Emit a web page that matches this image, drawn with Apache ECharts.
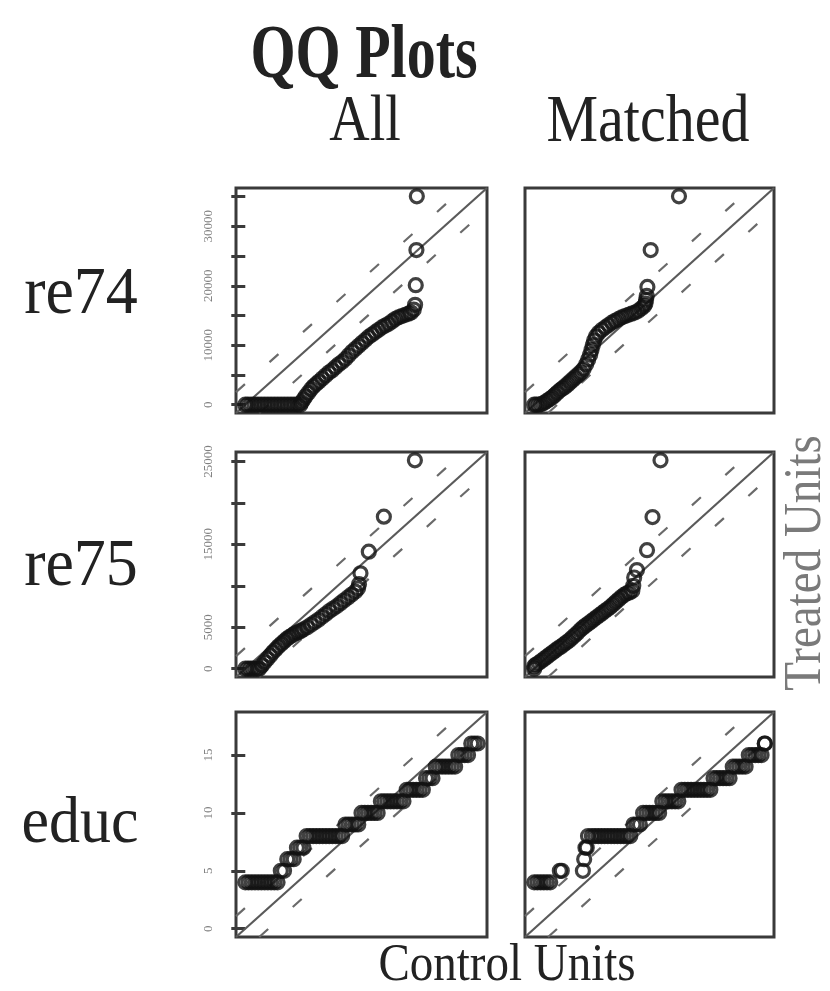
<!DOCTYPE html>
<html><head><meta charset="utf-8">
<script src="https://cdn.jsdelivr.net/npm/echarts@6/dist/echarts.min.js"></script>
<style>html,body{margin:0;padding:0;background:#fff}#c{width:830px;height:991px}</style>
</head><body><div id="c"></div>
<script>
// ---- data: [control quantile, treated quantile] ----
const rowNames = ['re74', 're75', 'educ'];
const colNames = ['All', 'Matched'];

const re74All = [
  [0,0],[400,0],[900,0],[1400,0],[1900,0],[2400,0],[2900,0],[3400,0],[3900,0],[4400,0],[4900,0],
  [5400,0],[5900,0],[6400,0],[6900,0],[7400,0],[7900,0],[8300,0],
  [8500,400],[8800,900],[9100,1400],[9500,2000],[9900,2600],[10300,3100],[10700,3500],[11100,3900],
  [11600,4400],[12100,4900],[12600,5400],[13100,5800],[13600,6300],[14100,6800],[14600,7200],
  [15100,7700],[15600,8300],[16100,8900],[16600,9400],[17100,9900],[17600,10400],[18100,10900],
  [18600,11400],[19100,11800],[19600,12200],[20100,12600],[20600,13000],[21100,13300],[21600,13600],
  [22100,14000],[22600,14400],[23100,14700],[23600,14900],[24100,15100],[24600,15300],[25000,15500],
  [25400,16000],[25600,16800],[25700,20100],[25800,26000],[25862,35040]
];
const re74Matched = [
  [0,0],[300,0],[700,0],[1100,100],[1500,300],[1900,600],[2300,900],[2700,1200],[3100,1600],[3500,2000],
  [3900,2400],[4300,2700],[4700,3000],[5100,3400],[5500,3800],[5900,4200],[6300,4600],[6700,5000],
  [7100,5400],[7500,6000],[7900,6800],[8200,7600],[8500,8400],[8700,9200],[8900,10000],[9100,10800],
  [9400,11500],[9800,12100],[10300,12600],[10800,13000],[11300,13400],[11800,13800],[12300,14100],
  [12800,14400],[13300,14700],[13800,14900],[14300,15100],[14800,15300],[15300,15500],[15800,15800],
  [16300,16200],[16700,16600],[16900,17000],[17000,17600],[17100,18300],[17200,19800],[17700,26000],[22000,35040]
];
const re75All = [
  [0,0],[300,0],[600,0],[900,0],[1200,0],[1500,0],
  [1800,400],[2100,800],[2400,1200],[2700,1600],[3000,2000],[3300,2350],[3600,2700],[3900,3000],
  [4200,3300],[4500,3600],[4800,3850],[5100,4050],[5400,4250],[5700,4400],[6000,4550],[6300,4750],
  [6700,5000],[7100,5300],[7500,5600],[7900,5900],[8300,6250],[8700,6600],[9100,6950],[9500,7250],
  [9900,7550],[10300,7900],[10700,8250],[11100,8600],[11500,8950],[11900,9300],[12200,9700],
  [12300,10200],[12460,11510],[13360,14120],[14990,18345],[18347,25142]
];
const re75Matched = [
  [0,0],[0,300],[200,500],[500,700],[800,950],[1100,1200],[1400,1450],[1700,1700],[2000,1950],
  [2300,2200],[2600,2450],[2900,2650],[3200,2900],[3500,3150],[3800,3400],[4100,3700],[4400,4000],
  [4700,4300],[5000,4650],[5300,4950],[5600,5200],[5900,5450],[6200,5700],[6500,5950],[6800,6200],
  [7100,6450],[7400,6700],[7700,6950],[8000,7200],[8300,7450],[8600,7750],[8900,8050],[9200,8350],
  [9500,8650],[9800,8900],[10100,9100],[10400,9200],[10700,9400],[10800,10000],[10900,11000],
  [11200,11900],[12300,14300],[12900,18300],[13770,25142]
];
const educAll = [
  [0,4],[0.25,4],[0.5,4],[0.75,4],[1,4],[1.25,4],[1.5,4],[1.75,4],[2,4],[2.25,4],[2.5,4],
  [2.75,5],[3.0,5],[3.25,6],[3.5,6],[3.75,6],[4.0,7],[4.25,7],[4.5,7],
  [4.75,8],[5.0,8],[5.25,8],[5.5,8],[5.75,8],[6.0,8],[6.25,8],[6.5,8],[6.75,8],[7.0,8],[7.25,8],[7.5,8],
  [7.75,9],[8.0,9],[8.25,9],[8.5,9],[8.75,9],
  [9.0,10],[9.25,10],[9.5,10],[9.75,10],[10.0,10],[10.25,10],
  [10.5,11],[10.75,11],[11.0,11],[11.25,11],[11.5,11],[11.75,11],[12.0,11],[12.25,11],
  [12.5,12],[12.75,12],[13.0,12],[13.25,12],[13.5,12],[13.75,12],
  [14.0,13],[14.25,13],[14.5,13],
  [14.75,14],[15.0,14],[15.25,14],[15.5,14],[15.75,14],[16.0,14],[16.25,14],
  [16.5,15],[16.75,15],[17.0,15],[17.25,15],[17.5,16],[17.75,16],[18,16]
];
const educMatched = [
  [0,4],[0.25,4],[0.5,4],[0.75,4],[1.0,4],[1.25,4],[2.0,5],[2.15,5],[3.8,5],[3.9,6],[4.0,7],[4.1,7],[4.2,8],
  [4.5,8],[4.75,8],[5.0,8],[5.25,8],[5.5,8],[5.75,8],[6.0,8],[6.25,8],[6.5,8],[6.75,8],[7.0,8],[7.25,8],[7.5,8],
  [7.75,9],[8.0,9],[8.25,9],[8.5,10],[8.75,10],[9.0,10],[9.25,10],[9.5,10],[9.75,10],
  [10.0,11],[10.25,11],[10.5,11],[10.75,11],[11.0,11],[11.25,11],
  [11.5,12],[11.75,12],[12.0,12],[12.25,12],[12.5,12],[12.75,12],[13.0,12],[13.25,12],[13.5,12],[13.75,12],
  [14.0,13],[14.25,13],[14.5,13],[14.75,13],[15.0,13],[15.25,13],
  [15.5,14],[15.75,14],[16.0,14],[16.25,14],[16.5,14],
  [16.75,15],[17.0,15],[17.25,15],[17.5,15],[17.75,15],[18,16],[18,16]
];

// tick positions and labelled ticks for the left column
const re74Ticks = [0,5000,10000,15000,20000,25000,30000,35000];
const re74Labels = [0,10000,20000,30000];
const re75Ticks = [0,5000,10000,15000,20000,25000];
const re75Labels = [0,5000,15000,25000];
const educTicks = [0,5,10,15];
const educLabels = [0,5,10,15];

// ---- layout ----
const panelData = [[re74All, re74Matched],[re75All, re75Matched],[educAll, educMatched]];
const tickSets = [re74Ticks, re75Ticks, educTicks];
const labelSets = [re74Labels, re75Labels, educLabels];
const colLeft = [236, 525];
const colWidth = [251, 249];
const rowTop = [188, 452, 712];
const rowHeight = 225;

const grids = [], xAxes = [], yAxes = [], series = [];
const serif = '"Liberation Serif", "DejaVu Serif", serif';

for (let r = 0; r < 3; r++) {
  const all = panelData[r][0].concat(panelData[r][1]);
  let lo = Infinity, hi = -Infinity;
  all.forEach(p => { lo = Math.min(lo, p[0], p[1]); hi = Math.max(hi, p[0], p[1]); });
  const span = hi - lo;
  const mn = lo - 0.04 * span, mx = hi + 0.04 * span;
  const off = 0.1 * span;
  for (let c = 0; c < 2; c++) {
    const gi = r * 2 + c;
    grids.push({left: colLeft[c], top: rowTop[r], width: colWidth[c], height: rowHeight,
      show: true, borderColor: '#3a3a3a', borderWidth: 3, backgroundColor: 'transparent'});
    xAxes.push({gridIndex: gi, type: 'value', min: mn, max: mx,
      axisLine: {show: false}, axisTick: {show: false}, axisLabel: {show: false}, splitLine: {show: false}});
    yAxes.push({gridIndex: gi, type: 'value', min: mn, max: mx,
      axisLine: {show: false}, splitLine: {show: false},
      axisTick: {show: c === 0, length: 14, inside: false, customValues: tickSets[r],
        lineStyle: {color: '#3a3a3a', width: 3}},
      axisLabel: {show: c === 0, customValues: labelSets[r], rotate: 90, margin: 21,
        fontSize: 13, color: '#808080', fontFamily: serif, formatter: v => String(v)}});
    const lineBase = {type: 'line', xAxisIndex: gi, yAxisIndex: gi, symbol: 'none', silent: true,
      animation: false, z: 1};
    series.push(Object.assign({}, lineBase, {data: [[mn, mn], [mx, mx]],
      lineStyle: {color: '#5a5a5a', width: 2.2}}));
    series.push(Object.assign({}, lineBase, {data: [[mn, mn + off], [mx - off, mx]],
      lineStyle: {color: '#6a6a6a', width: 2.2, type: [12, 33]}}));
    series.push(Object.assign({}, lineBase, {data: [[mn + off, mn], [mx, mx - off]],
      lineStyle: {color: '#6a6a6a', width: 2.2, type: [12, 33]}}));
    series.push({type: 'scatter', xAxisIndex: gi, yAxisIndex: gi, data: panelData[r][c],
      symbol: 'circle', symbolSize: 13, animation: false, z: 3,
      itemStyle: {color: 'rgba(0,0,0,0)', borderColor: '#111', borderWidth: 3.2}});
  }
}

function txt(text, x, y, size, opts) {
  opts = opts || {};
  return {type: 'text', x: x, y: y, rotation: opts.rot || 0, z: 10,
    scaleY: opts.sy || 1, scaleX: opts.sx || 1,
    style: {text: text, fill: opts.color || '#222', textAlign: 'center', textVerticalAlign: 'middle',
      font: (opts.bold ? 'bold ' : '') + size + 'px ' + serif}};
}

const graphics = [
  txt('QQ Plots', 364, 58, 58, {bold: true, sy: 1.3}),
  txt(colNames[0], 365, 123, 56, {sy: 1.18}),
  txt(colNames[1], 648, 123, 58, {sy: 1.18}),
  txt(rowNames[0], 81, 295, 64, {sy: 1.05}),
  txt(rowNames[1], 81, 567, 64, {sy: 1.05}),
  txt(rowNames[2], 80, 825, 62, {sy: 1.05}),
  txt('Control Units', 507, 966, 47, {sy: 1.12}),
  txt('Treated Units', 806, 563, 47, {rot: Math.PI / 2, color: '#7a7a7a', sy: 1.12})
];

const chart = echarts.init(document.getElementById('c'), null, {renderer: 'canvas'});
chart.setOption({
  animation: false,
  backgroundColor: '#ffffff',
  grid: grids, xAxis: xAxes, yAxis: yAxes, series: series,
  graphic: graphics
});
</script></body></html>
